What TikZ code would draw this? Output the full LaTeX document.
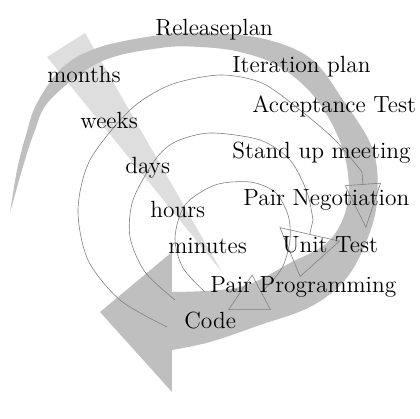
\documentclass[tikz,border=0pt]{standalone}
\usetikzlibrary{arrows.meta}
\definecolor{bandgray}{gray}{0.75}
\definecolor{wedgegray}{gray}{0.87}
\definecolor{loopgray}{gray}{0.5}
\tikzset{
  phase/.style={anchor=base west, inner sep=0pt, font=\fontsize{11.7}{14}\selectfont},
  feedback/.style={draw=loopgray, line width=0.3pt},
}

\begin{document}
\begin{tikzpicture}[x=0.5pt,y=-0.5pt]
    \useasboundingbox (0,0) rectangle (420,419);

    % light wedge
    \fill[wedgegray] (47,57) -- (85,33) -- (222,272) -- cycle;

    % release loop (thick arrow)
    \fill[bandgray] plot[smooth, tension=0.6] coordinates {(10,213) (17,170) (26,135) (37,103) (63,67) (100,47) (160,35) (200,33) (260,38) (310,58) (343,100) (373,150) (377,200) (367,240) (345,280) (310,307) (260,325) (210,342) (172,350)}
        -- (172,392) -- (100,312) -- (172,252) -- (172,292)
        -- plot[smooth, tension=0.6] coordinates {(172,292) (240,287) (290,263) (330,240) (348,200) (343,150) (317,100) (280,67) (240,52) (200,47) (160,48) (100,62) (50,100) (34,133) (22,170) (10,213)} -- cycle;

    \coordinate (weeksend) at (366,228);
    \coordinate (daysend) at (300,277);
    \coordinate (hoursend) at (228,310);

    % thin loops
    \draw[feedback, -{Triangle[open,length=22pt,width=18pt]}] plot[smooth] coordinates {(167,327) (120,300) (88,260) (78,210) (90,160) (130,110) (170,85) (220,75) (262,83) (300,110) (335,140) (362,172)} -- (weeksend);
    \draw[feedback, -{Triangle[open,length=22pt,width=31pt]}] plot[smooth] coordinates {(175,300) (145,272) (130,237) (133,200) (155,160) (175,142) (210,133) (260,140) (290,160) (307,192) (313,220)} -- (daysend);
    \draw[feedback, -{Triangle[open,length=19pt,width=20pt]}] plot[smooth] coordinates {(205,292) (183,268) (175,238) (185,205) (215,185) (250,182) (275,192) (288,215) (290,240) (282,268) (262,292)} -- (hoursend);

    \node[phase] (release) at (155,35) {Releaseplan};
    \node[phase] (iteration) at (232,72) {Iteration plan};
    \node[phase] (acceptance) at (252,112) {Acceptance Test};
    \node[phase] (standup) at (232,158) {Stand up meeting};
    \node[phase] (negotiation) at (243,205) {Pair Negotiation};
    \node[phase] (unittest) at (282,252) {Unit Test};
    \node[phase] (pairprog) at (210,292) {Pair Programming};
    \node[phase] (code) at (184,328) {Code};

    \node[phase] (months) at (47,82) {months};
    \node[phase] (weeks) at (80,128) {weeks};
    \node[phase] (days) at (125,173) {days};
    \node[phase] (hours) at (150,217) {hours};
    \node[phase] (minutes) at (168,253) {minutes};
\end{tikzpicture}
\end{document}
